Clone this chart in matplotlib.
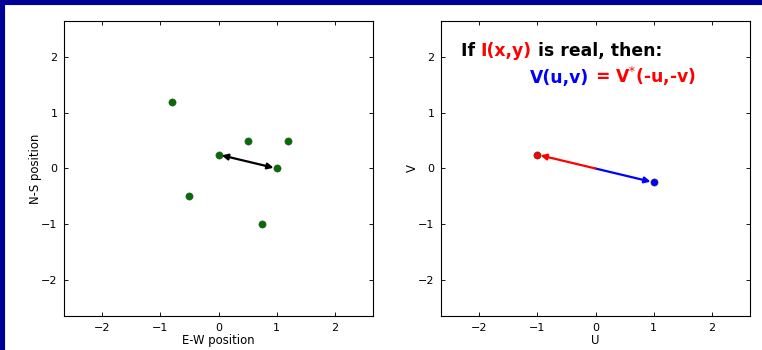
import matplotlib
matplotlib.use("Agg")
import matplotlib.pyplot as plt
from matplotlib.patches import Rectangle
from matplotlib.offsetbox import TextArea, HPacker, AnnotationBbox

# antenna positions (left panel)
ant_x = [-0.8, 0.5, 1.2, 0.0, 1.0, -0.5, 0.75]
ant_y = [1.2, 0.5, 0.5, 0.25, 0.0, -0.5, -1.0]

# baseline between two antennas
base_start = (0.0, 0.25)
base_end = (1.0, 0.0)

# uv points (right panel)
uv_pos = (1.0, -0.25)
uv_neg = (-1.0, 0.25)

ticks = [-2, -1, 0, 1, 2]
lim = 2.65

fig = plt.figure(figsize=(7.62 / 0.8, 3.5 / 0.8), dpi=80)
fig.patch.set_facecolor("white")
blue = "#000096"
fig.patches.append(Rectangle((0, 1 - 4 / 350), 1, 4 / 350, transform=fig.transFigure,
                             color=blue, zorder=10))
fig.patches.append(Rectangle((0, 0), 4 / 762, 1, transform=fig.transFigure,
                             color=blue, zorder=10))

ax1 = fig.add_axes([64 / 762, 1 - 316 / 350, 309 / 762, 295 / 350])
ax2 = fig.add_axes([441 / 762, 1 - 316 / 350, 309 / 762, 295 / 350])

for ax in (ax1, ax2):
    ax.set_xlim(-lim, lim)
    ax.set_ylim(-lim, lim)
    ax.set_xticks(ticks)
    ax.set_yticks(ticks)
    ax.tick_params(direction="in", top=True, right=True, length=4,
                   labelsize=10, pad=6)
    for s in ax.spines.values():
        s.set_linewidth(1.0)

ax1.plot(ant_x, ant_y, "o", color="#007000", markeredgecolor="#444444",
         markeredgewidth=0.5, markersize=6.5, zorder=3)
ax1.annotate("", xy=base_end, xytext=base_start,
             arrowprops=dict(arrowstyle="<|-|>", color="black", lw=2,
                             mutation_scale=11, shrinkA=3, shrinkB=3))
ax1.set_xlabel("E-W position", fontsize=10.5, labelpad=1)
ax1.set_ylabel("N-S position", fontsize=10.5, labelpad=-1)

ax2.annotate("", xy=uv_pos, xytext=(0, 0),
             arrowprops=dict(arrowstyle="-|>", color="blue", lw=2,
                             mutation_scale=11, shrinkA=0, shrinkB=3))
ax2.annotate("", xy=uv_neg, xytext=(0, 0),
             arrowprops=dict(arrowstyle="-|>", color="red", lw=2,
                             mutation_scale=11, shrinkA=0, shrinkB=3))
ax2.plot(*uv_pos, "o", color="blue", markeredgecolor="#333333",
         markeredgewidth=0.5, markersize=6.5, zorder=3)
ax2.plot(*uv_neg, "o", color="red", markeredgecolor="#333333",
         markeredgewidth=0.5, markersize=6.5, zorder=3)
ax2.set_xlabel("U", fontsize=10.5, labelpad=1)
ax2.set_ylabel("V", fontsize=10.5, labelpad=-1)


def colored_line(ax, parts, xy):
    boxes = [TextArea(s, textprops=dict(color=c, fontsize=15.5, fontweight="bold"))
             for s, c in parts]
    pack = HPacker(children=boxes, align="baseline", pad=0, sep=0)
    ab = AnnotationBbox(pack, xy, xycoords="data", box_alignment=(0, 0.5),
                        frameon=False)
    ax.add_artist(ab)


colored_line(ax2, [("If ", "black"), ("I(x,y)", "red"), (" is real, then:", "black")],
             (-2.31, 2.11))
colored_line(ax2, [("V(u,v)", "blue"), (" = V$^{*}$(-u,-v)", "red")],
             (-1.13, 1.65))

fig.savefig("out.png", dpi=80, facecolor="white")
